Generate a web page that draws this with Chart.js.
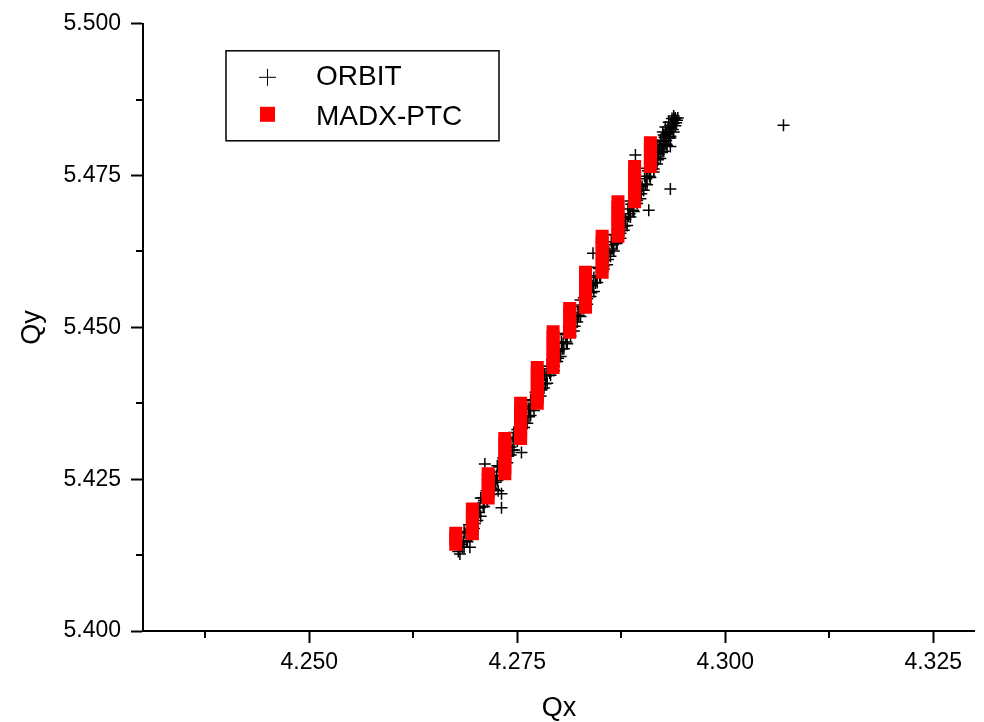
<!DOCTYPE html>
<html>
<head>
<meta charset="utf-8">
<title>Qx / Qy tune footprint</title>
<script src="https://cdn.jsdelivr.net/npm/chart.js@4.4.0/dist/chart.umd.min.js"></script>
<style>
  html, body { margin: 0; padding: 0; background: #fff; }
  #wrap { width: 984px; height: 722px; position: relative; }
</style>
</head>
<body>
<div id="wrap"><canvas id="tuneChart"></canvas></div>
<script>
// ORBIT tunes (black crosses)
const orbitQx = [
  // main band
  4.2679, 4.2682, 4.2685, 4.2687, 4.2690, 4.2692, 4.2695, 4.2698, 4.2700, 4.2703,
  4.2705, 4.2708, 4.2710, 4.2713, 4.2715, 4.2717, 4.2720, 4.2722, 4.2725, 4.2728,
  4.2730, 4.2733, 4.2735, 4.2738, 4.2740, 4.2742, 4.2745, 4.2748, 4.2750, 4.2752,
  4.2755, 4.2757, 4.2760, 4.2763, 4.2765, 4.2768, 4.2770, 4.2772, 4.2775, 4.2778,
  4.2780, 4.2783, 4.2785, 4.2787, 4.2790, 4.2792, 4.2795, 4.2798, 4.2800, 4.2803,
  4.2805, 4.2808, 4.2810, 4.2812, 4.2815, 4.2817, 4.2820, 4.2823, 4.2825, 4.2828,
  4.2830, 4.2832, 4.2835, 4.2838, 4.2840, 4.2842, 4.2845, 4.2848, 4.2850, 4.2853,
  4.2855, 4.2857, 4.2860, 4.2863, 4.2865, 4.2868, 4.2870, 4.2872, 4.2875, 4.2878,
  4.2880, 4.2883, 4.2885, 4.2887, 4.2890, 4.2892, 4.2895, 4.2898, 4.2900, 4.2903,
  4.2905, 4.2907, 4.2910, 4.2912, 4.2914, 4.2916, 4.2918, 4.2920, 4.2921, 4.2923,
  4.2924, 4.2926, 4.2927, 4.2929, 4.2930, 4.2931, 4.2933, 4.2934, 4.2935, 4.2936,
  4.2938, 4.2939, 4.2940, 4.2925, 4.2932, 4.2937, 4.2942, 4.2928, 4.2919, 4.2915,
  4.2940, 4.2943, 4.2938, 4.2929, 4.2922, 4.2941, 4.2932,
  // lower-right edge of the band
  4.2684, 4.2689, 4.2694, 4.2699, 4.2704, 4.2709, 4.2714, 4.2719, 4.2724, 4.2729,
  4.2734, 4.2739, 4.2744, 4.2749, 4.2754, 4.2759, 4.2764, 4.2769, 4.2774, 4.2779,
  4.2784, 4.2789, 4.2794, 4.2799, 4.2804, 4.2809, 4.2814, 4.2819, 4.2824, 4.2829,
  4.2834, 4.2839, 4.2844, 4.2849, 4.2854, 4.2859, 4.2864, 4.2869, 4.2874, 4.2879,
  4.2884, 4.2889, 4.2894, 4.2899, 4.2904, 4.2909, 4.2914, 4.2919, 4.2924, 4.2929,
  4.2934,
  // outer right fringe
  4.2686, 4.2690, 4.2694, 4.2698, 4.2702, 4.2706, 4.2710, 4.2714, 4.2718, 4.2722,
  4.2726, 4.2730, 4.2734, 4.2738, 4.2742, 4.2746, 4.2750, 4.2754, 4.2758, 4.2762,
  4.2766, 4.2770, 4.2774, 4.2778, 4.2782, 4.2786, 4.2790, 4.2794, 4.2798, 4.2802,
  4.2806, 4.2810, 4.2814, 4.2818, 4.2822, 4.2826, 4.2830, 4.2834, 4.2838, 4.2842,
  4.2846, 4.2850, 4.2854, 4.2858, 4.2862, 4.2866, 4.2870, 4.2874, 4.2878, 4.2882,
  4.2886, 4.2890, 4.2894, 4.2898, 4.2902, 4.2906, 4.2910, 4.2914, 4.2918, 4.2922,
  4.2926, 4.2930, 4.2934, 4.2938,
  // upper-left edge of the band
  4.2686, 4.2696, 4.2706, 4.2716, 4.2726, 4.2736, 4.2746, 4.2756, 4.2766, 4.2776,
  4.2786, 4.2796, 4.2806, 4.2816, 4.2826, 4.2836, 4.2846, 4.2856, 4.2866, 4.2876,
  4.2886, 4.2896, 4.2906, 4.2916, 4.2926, 4.2936,
  // stray points
  4.3070, 4.2934, 4.2934, 4.2908, 4.2892, 4.2731, 4.2731, 4.2727, 4.2711, 4.2755,
  4.2693, 4.2681, 4.2841
];
const orbitQy = [
  // main band
  5.4131, 5.4143, 5.4147, 5.4161, 5.4163, 5.4175, 5.4174, 5.4188, 5.4190, 5.4203,
  5.4203, 5.4219, 5.4215, 5.4231, 5.4233, 5.4243, 5.4243, 5.4256, 5.4256, 5.4270,
  5.4272, 5.4285, 5.4283, 5.4297, 5.4304, 5.4303, 5.4316, 5.4319, 5.4332, 5.4335,
  5.4339, 5.4351, 5.4353, 5.4367, 5.4366, 5.4379, 5.4380, 5.4393, 5.4392, 5.4406,
  5.4408, 5.4421, 5.4420, 5.4432, 5.4436, 5.4447, 5.4446, 5.4460, 5.4462, 5.4476,
  5.4474, 5.4488, 5.4490, 5.4501, 5.4501, 5.4513, 5.4521, 5.4524, 5.4534, 5.4537,
  5.4549, 5.4548, 5.4560, 5.4571, 5.4569, 5.4582, 5.4585, 5.4597, 5.4597, 5.4612,
  5.4610, 5.4622, 5.4624, 5.4641, 5.4636, 5.4652, 5.4652, 5.4665, 5.4664, 5.4679,
  5.4678, 5.4695, 5.4687, 5.4703, 5.4706, 5.4718, 5.4719, 5.4735, 5.4732, 5.4749,
  5.4745, 5.4758, 5.4759, 5.4772, 5.4770, 5.4781, 5.4787, 5.4785, 5.4797, 5.4794,
  5.4806, 5.4801, 5.4813, 5.4808, 5.4820, 5.4826, 5.4822, 5.4833, 5.4829, 5.4838,
  5.4836, 5.4843, 5.4845, 5.4822, 5.4812, 5.4826, 5.4841, 5.4830, 5.4800, 5.4790,
  5.4832, 5.4845, 5.4848, 5.4818, 5.4808, 5.4837, 5.4838,
  // lower-right edge of the band
  5.4138, 5.4149, 5.4167, 5.4177, 5.4195, 5.4205, 5.4216, 5.4235, 5.4245, 5.4262,
  5.4272, 5.4288, 5.4298, 5.4316, 5.4327, 5.4342, 5.4353, 5.4370, 5.4381, 5.4397,
  5.4407, 5.4425, 5.4436, 5.4449, 5.4465, 5.4476, 5.4493, 5.4502, 5.4519, 5.4531,
  5.4547, 5.4557, 5.4573, 5.4585, 5.4601, 5.4612, 5.4629, 5.4638, 5.4655, 5.4667,
  5.4683, 5.4693, 5.4709, 5.4720, 5.4736, 5.4749, 5.4761, 5.4776, 5.4788, 5.4802,
  5.4815,
  // outer right fringe
  5.4138, 5.4147, 5.4161, 5.4169, 5.4182, 5.4189, 5.4205, 5.4213, 5.4225, 5.4233,
  5.4248, 5.4256, 5.4270, 5.4277, 5.4290, 5.4298, 5.4313, 5.4322, 5.4335, 5.4342,
  5.4355, 5.4363, 5.4378, 5.4387, 5.4400, 5.4408, 5.4421, 5.4429, 5.4444, 5.4452,
  5.4465, 5.4473, 5.4486, 5.4494, 5.4509, 5.4518, 5.4531, 5.4538, 5.4551, 5.4559,
  5.4574, 5.4583, 5.4596, 5.4603, 5.4617, 5.4626, 5.4640, 5.4647, 5.4660, 5.4668,
  5.4682, 5.4691, 5.4704, 5.4712, 5.4726, 5.4735, 5.4747, 5.4756, 5.4769, 5.4778,
  5.4790, 5.4800, 5.4812, 5.4822,
  // upper-left edge of the band
  5.4164, 5.4191, 5.4219, 5.4246, 5.4272, 5.4300, 5.4327, 5.4354, 5.4381, 5.4409,
  5.4436, 5.4463, 5.4490, 5.4517, 5.4545, 5.4572, 5.4599, 5.4626, 5.4653, 5.4681,
  5.4708, 5.4735, 5.4762, 5.4790, 5.4817, 5.4844,
  // stray points
  5.4833, 5.4798, 5.4728, 5.4693, 5.4784, 5.4203, 5.4226, 5.4231, 5.4275, 5.4294,
  5.4138, 5.4127, 5.4622
];

// MADX-PTC tunes: stacked red squares, one column per Qx value
const madxColumnQx = [4.2676, 4.2696, 4.2715, 4.2735, 4.2754, 4.2774, 4.2793,
                      4.2813, 4.2832, 4.2852, 4.2871, 4.2891, 4.2910];
const madxColumnQy = [
  [5.4143, 5.4152, 5.4161],
  [5.4160, 5.4170, 5.4180, 5.4190, 5.4201],
  [5.4219, 5.4229, 5.4239, 5.4249, 5.4259],
  [5.4259, 5.4269, 5.4279, 5.4289, 5.4299, 5.4308, 5.4317],
  [5.4317, 5.4327, 5.4337, 5.4346, 5.4356, 5.4366, 5.4375],
  [5.4375, 5.4385, 5.4395, 5.4405, 5.4415, 5.4425, 5.4434],
  [5.4434, 5.4444, 5.4454, 5.4464, 5.4474, 5.4484, 5.4493],
  [5.4492, 5.4502, 5.4512, 5.4522, 5.4531],
  [5.4533, 5.4543, 5.4553, 5.4563, 5.4573, 5.4582, 5.4591],
  [5.4591, 5.4601, 5.4611, 5.4621, 5.4631, 5.4641, 5.4650],
  [5.4650, 5.4660, 5.4670, 5.4679, 5.4688, 5.4698, 5.4707],
  [5.4707, 5.4717, 5.4727, 5.4737, 5.4746, 5.4756, 5.4765],
  [5.4765, 5.4775, 5.4785, 5.4795, 5.4804]
];

const xTicks = [4.250, 4.275, 4.300, 4.325];
const xMinorTicks = [4.2375, 4.2625, 4.2875, 4.3125];
const yTicks = [5.400, 5.425, 5.450, 5.475, 5.500];
const yMinorTicks = [5.4125, 5.4375, 5.4625, 5.4875];

const FONT = "'Liberation Sans', Arial, sans-serif";

// short outward minor ticks
const minorTicks = {
  id: "minorTicks",
  afterDraw(chart) {
    const { ctx, chartArea, scales } = chart;
    ctx.save();
    ctx.strokeStyle = "#000";
    ctx.lineWidth = 2;
    ctx.beginPath();
    xMinorTicks.forEach(v => {
      const px = Math.round(scales.x.getPixelForValue(v));
      ctx.moveTo(px, chartArea.bottom);
      ctx.lineTo(px, chartArea.bottom + 7);
    });
    yMinorTicks.forEach(v => {
      const py = Math.round(scales.y.getPixelForValue(v));
      ctx.moveTo(chartArea.left, py);
      ctx.lineTo(chartArea.left - 7, py);
    });
    ctx.stroke();
    ctx.restore();
  }
};

// framed legend inside the plot, top left
const legendBox = {
  id: "legendBox",
  afterDraw(chart) {
    const { ctx, chartArea } = chart;
    const bx = chartArea.left + 83, by = chartArea.top + 27;
    const bw = 273, bh = 90;
    ctx.save();
    ctx.fillStyle = "#fff";
    ctx.fillRect(bx, by, bw, bh);
    ctx.strokeStyle = "#000";
    ctx.lineWidth = 1.5;
    ctx.strokeRect(bx, by, bw, bh);

    const [orbit, madx] = chart.data.datasets;
    // ORBIT: cross
    ctx.lineWidth = 1;
    ctx.beginPath();
    ctx.moveTo(bx + 33, by + 26.5); ctx.lineTo(bx + 50, by + 26.5);
    ctx.moveTo(bx + 41.5, by + 18); ctx.lineTo(bx + 41.5, by + 35);
    ctx.stroke();
    // MADX-PTC: red square
    ctx.fillStyle = madx.backgroundColor;
    ctx.fillRect(bx + 34, by + 56, 15, 15);

    ctx.fillStyle = "#000";
    ctx.font = "28px " + FONT;
    ctx.textBaseline = "middle";
    ctx.fillText(orbit.label, bx + 90, by + 26.5);
    ctx.fillText(madx.label, bx + 90, by + 66.5);
    ctx.restore();
  }
};

new Chart(document.getElementById("tuneChart"), {
  type: "scatter",
  data: {
    datasets: [
      {
        label: "ORBIT",
        data: orbitQx.map((q, i) => ({ x: q, y: orbitQy[i] })),
        pointStyle: "cross",
        pointRadius: 6,
        borderColor: "#000",
        borderWidth: 1.5,
        order: 2
      },
      {
        label: "MADX-PTC",
        data: madxColumnQx.flatMap((q, i) => madxColumnQy[i].map(v => ({ x: q, y: v }))),
        pointStyle: "rect",
        pointRadius: 9.2,
        backgroundColor: "#ff0000",
        borderColor: "#ff0000",
        borderWidth: 0,
        order: 1
      }
    ]
  },
  options: {
    responsive: true,
    maintainAspectRatio: false,
    animation: false,
    layout: { padding: { top: 20, right: 8, left: 0, bottom: 0 } },
    plugins: { legend: { display: false }, tooltip: { enabled: false } },
    scales: {
      x: {
        type: "linear",
        min: 4.230,
        max: 4.330,
        afterBuildTicks: s => { s.ticks = xTicks.map(v => ({ value: v })); },
        afterFit: s => { s.height = 91; },
        ticks: {
          callback: v => v.toFixed(3),
          color: "#000",
          font: { family: FONT, size: 23 },
          padding: 6,
          maxRotation: 0,
          autoSkip: false
        },
        grid: { drawOnChartArea: false, tickLength: 12, tickWidth: 2, tickColor: "#000" },
        border: { color: "#000", width: 2 },
        title: { display: true, text: "Qx", color: "#000", font: { family: FONT, size: 27, lineHeight: 1 }, padding: 0 }
      },
      y: {
        type: "linear",
        min: 5.400,
        max: 5.500,
        afterBuildTicks: s => { s.ticks = yTicks.map(v => ({ value: v })); },
        afterFit: s => { s.width = 143; },
        ticks: {
          callback: v => v.toFixed(3),
          color: "#000",
          font: { family: FONT, size: 23 },
          padding: 10,
          autoSkip: false
        },
        grid: { drawOnChartArea: false, tickLength: 12, tickWidth: 2, tickColor: "#000" },
        border: { color: "#000", width: 2 },
        title: { display: true, text: "Qy", color: "#000", font: { family: FONT, size: 27, lineHeight: 1 }, padding: { top: 19 } }
      }
    }
  },
  plugins: [minorTicks, legendBox]
});
</script>
</body>
</html>
